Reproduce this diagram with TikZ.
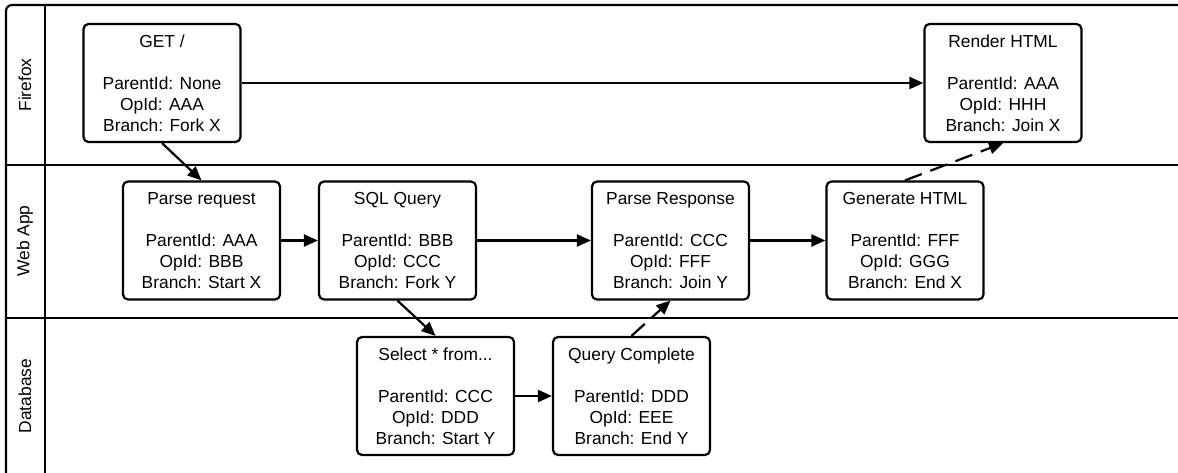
\documentclass[tikz,border=0pt]{standalone}
\usepackage{fontspec}
\setmainfont{Liberation Sans}
\usetikzlibrary{arrows.meta}
\begin{document}
\begin{tikzpicture}[x=1pt,y=-1pt,
  op/.style={draw,line width=2.2pt,rounded corners=5pt,minimum width=157pt,minimum height=118pt,
    align=center,inner sep=0pt,font=\fontsize{17.4}{21}\selectfont},
  lane/.style={rotate=90,font=\fontsize{17.4}{21}\selectfont},
  frame/.style={line width=2.2pt},
  conn/.style={line width=2.2pt,-{Triangle[length=14pt,width=12pt]}},
  async/.style={conn,dash pattern=on 18pt off 9pt}]
\useasboundingbox (0,0) rectangle (1178,473);
% frame
\draw[frame,rounded corners=6pt] (6,480) -- (6,5) -- (1190,5);
\draw[frame] (45,5) -- (45,480);
\draw[frame] (6,165) -- (1190,165);
\draw[frame] (6,318) -- (1190,318);
\node[lane] (lff) at (25,85) {Firefox};
\node[lane] (lwa) at (25,241) {Web App};
\node[lane] (ldb) at (25,396) {Database};
% nodes
\node[op] (get) at (162,83) {GET /\\[21pt]ParentId: None\\OpId: AAA\\Branch: Fork X};
\node[op] (render) at (1003,83) {Render HTML\\[21pt]ParentId: AAA\\OpId: HHH\\Branch: Join X};
\node[op] (parse) at (201.5,240.5) {Parse request\\[21pt]ParentId: AAA\\OpId: BBB\\Branch: Start X};
\node[op] (sql) at (397.5,240.5) {SQL Query\\[21pt]ParentId: BBB\\OpId: CCC\\Branch: Fork Y};
\node[op] (presp) at (670.5,240.5) {Parse Response\\[21pt]ParentId: CCC\\OpId: FFF\\Branch: Join Y};
\node[op] (gen) at (905,240.5) {Generate HTML\\[21pt]ParentId: FFF\\OpId: GGG\\Branch: End X};
\node[op] (sel) at (435.5,396) {Select * from...\\[21pt]ParentId: CCC\\OpId: DDD\\Branch: Start Y};
\node[op] (qc) at (631.5,396) {Query Complete\\[21pt]ParentId: DDD\\OpId: EEE\\Branch: End Y};
% connectors
\draw[conn] (get.east) -- (render.west);
\draw[conn] (get.south) -- (parse.north);
\draw[conn] (parse.east) -- (sql.west);
\draw[conn] (sql.east) -- (presp.west);
\draw[conn] (presp.east) -- (gen.west);
\draw[conn] (sql.south) -- (sel.north);
\draw[conn] (sel.east) -- (qc.west);
\draw[async] (qc.north) -- (presp.south);
\draw[async] (gen.north) -- (render.south);
\end{tikzpicture}
\end{document}
